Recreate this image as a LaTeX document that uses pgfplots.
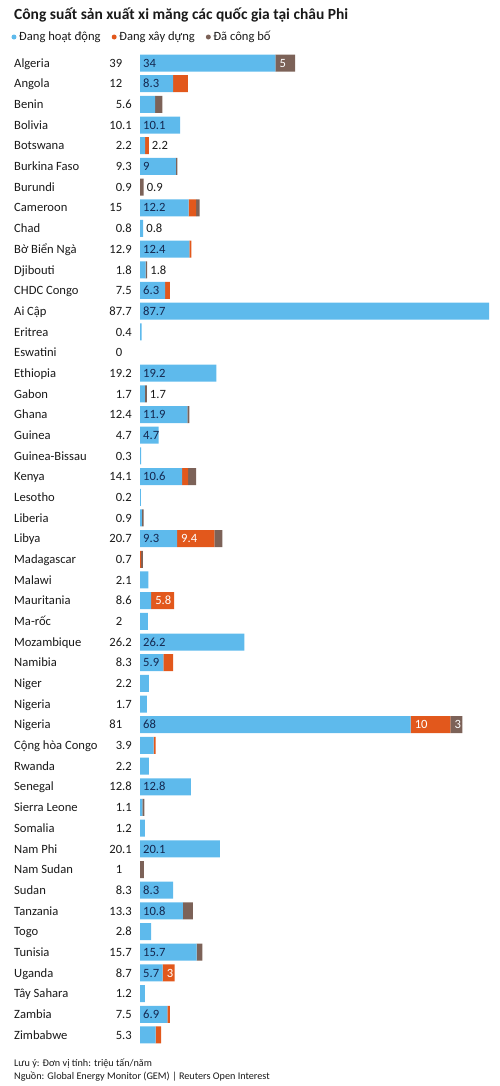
\documentclass[border=0pt]{standalone}
\usepackage{pgfplots}
\pgfplotsset{compat=1.18}
\usepackage{pgfplotstable}
\usepackage{fontspec}
\setmainfont{Carlito}
\definecolor{cblue}{RGB}{94,186,236}
\definecolor{corange}{RGB}{226,88,28}
\definecolor{cbrown}{RGB}{124,98,88}
\definecolor{cnavy}{RGB}{20,40,80}
\definecolor{ctext}{RGB}{25,25,25}
\newcommand\lab{\fontsize{12.6}{14}\selectfont}

\pgfplotstableread[col sep=comma,row sep=\\]{
y,name,total,op,con,ann\\
0,Algeria,39\phantom{.0},34,0,5\\
1,Angola,12\phantom{.0},8.3,3.7,0\\
2,Benin,5.6,3.8,0,1.8\\
3,Bolivia,10.1,10.1,0,0\\
4,Botswana,2.2,1.3,0.9,0\\
5,Burkina Faso,9.3,9.0,0,0.4\\
6,Burundi,0.9,0,0,0.9\\
7,Cameroon,15\phantom{.0},12.2,1.9,0.9\\
8,Chad,0.8,0.8,0,0\\
9,Bờ Biển Ngà,12.9,12.4,0.5,0\\
10,Djibouti,1.8,1.4,0,0.4\\
11,CHDC Congo,7.5,6.3,1.2,0\\
12,Ai Cập,87.7,87.7,0,0\\
13,Eritrea,0.4,0.4,0,0\\
14,Eswatini,0\phantom{.0},0,0,0\\
15,Ethiopia,19.2,19.2,0,0\\
16,Gabon,1.7,1.2,0,0.5\\
17,Ghana,12.4,11.9,0,0.5\\
18,Guinea,4.7,4.7,0,0\\
19,Guinea-Bissau,0.3,0.3,0,0\\
20,Kenya,14.1,10.6,1.5,2.0\\
21,Lesotho,0.2,0.2,0,0\\
22,Liberia,0.9,0.5,0,0.4\\
23,Libya,20.7,9.3,9.4,2.0\\
24,Madagascar,0.7,0,0.3,0.4\\
25,Malawi,2.1,2.1,0,0\\
26,Mauritania,8.6,2.8,5.8,0\\
27,Ma-rốc,2\phantom{.0},2,0,0\\
28,Mozambique,26.2,26.2,0,0\\
29,Namibia,8.3,5.9,2.4,0\\
30,Niger,2.2,2.2,0,0\\
31,Nigeria,1.7,1.7,0,0\\
32,Nigeria,81\phantom{.0},68,10,3\\
33,Cộng hòa Congo,3.9,3.4,0.5,0\\
34,Rwanda,2.2,2.2,0,0\\
35,Senegal,12.8,12.8,0,0\\
36,Sierra Leone,1.1,0.6,0,0.5\\
37,Somalia,1.2,1.2,0,0\\
38,Nam Phi,20.1,20.1,0,0\\
39,Nam Sudan,1\phantom{.0},0,0,1\\
40,Sudan,8.3,8.3,0,0\\
41,Tanzania,13.3,10.8,0,2.5\\
42,Togo,2.8,2.8,0,0\\
43,Tunisia,15.7,14.2,0,1.5\\
44,Uganda,8.7,5.7,3,0\\
45,Tây Sahara,1.2,1.2,0,0\\
46,Zambia,7.5,6.9,0.6,0\\
47,Zimbabwe,5.3,3.9,1.4,0\\
}\data

\pgfplotsset{
  myaxis/.style={
    at={(140pt,-52.66pt)}, anchor=north west,
    scale only axis, width=349pt, height=992.6pt,
    xmin=0, xmax=87.7, ymin=-0.5, ymax=47.5,
    y dir=reverse, hide axis, clip=false,
  },
  lbl/.style={draw=none, mark=none, nodes near coords,
    point meta=explicit symbolic,
    nodes near coords style={inner sep=0pt, font=\lab, yshift=-4.2pt, #1}},
}

\begin{document}
\begin{tikzpicture}
\useasboundingbox (0pt,0pt) rectangle (500pt,-1086pt);
\node[anchor=base west, inner sep=0pt, font=\bfseries\fontsize{15.5}{18}\selectfont, text=ctext] at (14pt,-19.3pt) {Công suất sản xuất xi măng các quốc gia tại châu Phi};

\begin{axis}[myaxis,
  xbar stacked, bar width=17pt,
  legend image code/.code={\fill[#1] (0pt,0pt) circle (2.5pt);},
  legend style={at={(-0.3682,1.01578)}, anchor=west, draw=none, fill=none,
    inner sep=0pt, outer sep=0pt, legend columns=-1, font=\lab,
    nodes={inner sep=1.5pt, text=ctext},
    /tikz/every odd column/.append style={column sep=1pt},
    /tikz/every even column/.append style={column sep=9.5pt}},
]
\addplot[fill=cblue, draw=none] table[x=op, y=y]{\data};
\addplot[fill=corange, draw=none] table[x=con, y=y]{\data};
\addplot[fill=cbrown, draw=none] table[x=ann, y=y]{\data};
\legend{Đang hoạt động, Đang xây dựng, Đã công bố}
\end{axis}

\begin{axis}[myaxis]
% country names
\addplot[lbl={anchor=base west, text=ctext}] table[x expr=-31.66, y=y, meta=name]{\data};
% totals
\addplot[lbl={anchor=base east, text=ctext}] table[x expr=-2.01, y=y, meta=total]{\data};
% labels inside the blue bars
\addplot[lbl={anchor=base west, xshift=3pt, text=cnavy}] coordinates {
(0,0)[34] (0,1)[8.3] (0,3)[10.1] (0,5)[9] (0,7)[12.2] (0,9)[12.4]
(0,11)[6.3] (0,12)[87.7] (0,15)[19.2] (0,17)[11.9] (0,18)[4.7]
(0,20)[10.6] (0,23)[9.3] (0,28)[26.2] (0,29)[5.9] (0,32)[68]
(0,35)[12.8] (0,38)[20.1] (0,40)[8.3] (0,41)[10.8] (0,43)[15.7]
(0,44)[5.7] (0,46)[6.9]};
% white labels in orange / brown segments
\addplot[lbl={anchor=base west, xshift=4pt, text=white}] coordinates {
(34,0)[5] (9.3,23)[9.4] (2.8,26)[5.8] (68,32)[10] (78,32)[3] (5.7,44)[3]};
% labels beside small bars
\addplot[lbl={anchor=base west, xshift=3pt, text=ctext}] coordinates {
(2.2,4)[2.2] (0.9,6)[0.9] (0.8,8)[0.8] (1.8,10)[1.8] (1.7,16)[1.7]};
\end{axis}

\node[anchor=base west, inner sep=0pt, font=\fontsize{10.2}{12}\selectfont, text=ctext] at (14pt,-1066pt) {Lưu ý: Đơn vị tính: triệu tấn/năm};
\node[anchor=base west, inner sep=0pt, font=\fontsize{10.2}{12}\selectfont, text=ctext] at (14pt,-1079.5pt) {Nguồn: Global Energy Monitor (GEM) | Reuters Open Interest};
\end{tikzpicture}
\end{document}
